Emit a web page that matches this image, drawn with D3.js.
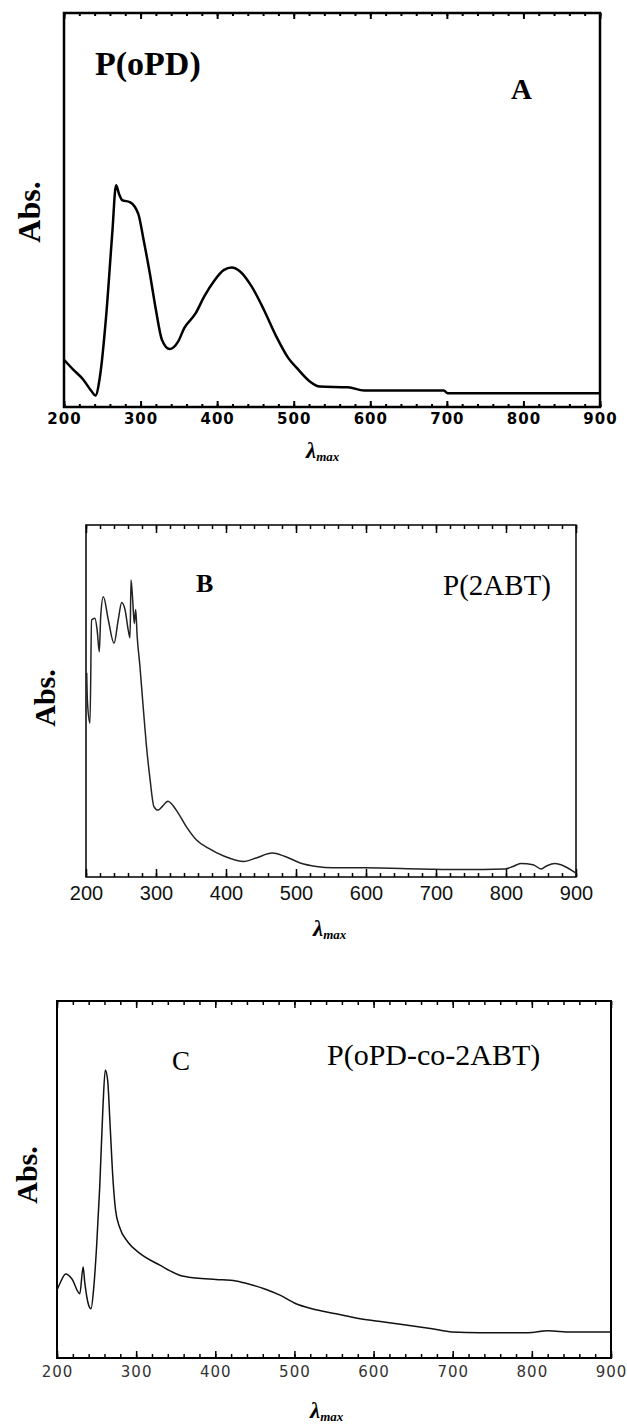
<!DOCTYPE html>
<html>
<head>
<meta charset="utf-8">
<script src="https://cdn.jsdelivr.net/npm/d3@7"></script>
<style>
  body { margin: 0; background: #fff; }
  svg { display: block; }
</style>
</head>
<body>
<div id="chart-area"></div>
<script>
// wavelength (nm) and relative absorbance
var wlA = [200, 212, 225, 236, 241, 247, 255, 263, 268, 272, 276, 286, 297, 304, 312, 320, 328, 338, 349, 357, 372, 383, 396, 409, 419, 430, 445, 461, 477, 493, 506, 521, 534, 571, 592, 696, 701, 900];
var absA = [0.120, 0.095, 0.070, 0.040, 0.029, 0.078, 0.230, 0.440, 0.563, 0.540, 0.525, 0.520, 0.490, 0.424, 0.340, 0.247, 0.170, 0.147, 0.166, 0.200, 0.238, 0.280, 0.320, 0.348, 0.354, 0.344, 0.306, 0.247, 0.180, 0.124, 0.095, 0.065, 0.052, 0.050, 0.042, 0.042, 0.035, 0.035];

var wlB = [201, 202, 205.7, 208, 212.8, 216, 219, 221, 224.8, 231.9, 240, 246, 251, 255.7, 260.5, 262.9, 264.3, 266.7, 269, 271, 273, 277, 281, 286, 291.6, 297, 303, 308.8, 317, 328.9, 343, 357.5, 374.7, 397.6, 426, 443, 466, 483.5, 506, 529, 552, 598, 678, 735.5, 798.5, 810, 821, 838.6, 850, 858.6, 870, 884, 900];
var absB = [0.580, 0.500, 0.437, 0.730, 0.735, 0.700, 0.640, 0.740, 0.796, 0.730, 0.664, 0.730, 0.780, 0.760, 0.700, 0.680, 0.844, 0.787, 0.720, 0.760, 0.687, 0.600, 0.500, 0.380, 0.276, 0.200, 0.190, 0.200, 0.215, 0.190, 0.144, 0.106, 0.082, 0.059, 0.044, 0.054, 0.068, 0.059, 0.040, 0.030, 0.026, 0.026, 0.023, 0.021, 0.023, 0.030, 0.038, 0.035, 0.023, 0.032, 0.038, 0.030, 0.011];

var wlC = [200, 203.5, 211, 218.7, 228.8, 233, 235, 240, 243, 246.5, 250, 254, 258, 261, 264, 266.8, 270, 274, 279, 289.5, 304.7, 330, 355, 375.5, 400.8, 426, 441, 461.7, 481.7, 502, 522, 552.6, 583, 613, 643, 674, 699, 734.7, 795, 820, 850, 900];
var absC = [0.190, 0.208, 0.235, 0.222, 0.180, 0.255, 0.213, 0.148, 0.138, 0.199, 0.311, 0.480, 0.700, 0.807, 0.778, 0.666, 0.526, 0.414, 0.367, 0.325, 0.293, 0.260, 0.232, 0.224, 0.220, 0.216, 0.208, 0.194, 0.176, 0.152, 0.138, 0.124, 0.110, 0.101, 0.092, 0.082, 0.073, 0.071, 0.071, 0.076, 0.073, 0.073];

var xTicks = [200, 300, 400, 500, 600, 700, 800, 900];
var panelNames = ["P(oPD)", "P(2ABT)", "P(oPD-co-2ABT)"];
var panelLetters = ["A", "B", "C"];

var svg = d3.select("#chart-area")
  .append("svg")
  .attr("width", 627)
  .attr("height", 1424);

// one panel = frame + ticks + curve + labels
function drawPanel(p, wl, ab) {
  var x = d3.scaleLinear().domain([200, 900]).range([p.left, p.right]);
  var y = d3.scaleLinear().domain([0, 1]).range([p.bottom, p.top]);
  var g = svg.append("g");

  var minor = d3.range(200, 901, 20);

  // bottom ticks, pointing inward
  g.append("g")
    .attr("transform", "translate(0," + p.bottom + ")")
    .call(d3.axisBottom(x).tickValues(minor).tickSize(-p.minorLen).tickFormat(""))
    .call(function(s) { s.select(".domain").remove(); });
  g.append("g")
    .attr("class", "xlab")
    .attr("transform", "translate(0," + p.bottom + ")")
    .call(d3.axisBottom(x).tickValues(xTicks).tickSizeInner(-p.majorLen).tickSizeOuter(0).tickPadding(p.pad))
    .call(function(s) { s.select(".domain").remove(); });
  // top ticks
  g.append("g")
    .attr("transform", "translate(0," + p.top + ")")
    .call(d3.axisTop(x).tickValues(minor).tickSize(-p.minorLen).tickFormat(""))
    .call(function(s) { s.select(".domain").remove(); });
  g.append("g")
    .attr("transform", "translate(0," + p.top + ")")
    .call(d3.axisTop(x).tickValues(xTicks).tickSize(-p.majorLen).tickFormat(""))
    .call(function(s) { s.select(".domain").remove(); });

  g.selectAll(".tick line").attr("stroke", "#000").attr("stroke-width", p.tickW);
  g.selectAll(".xlab text")
    .attr("fill", p.tickColor)
    .style("font-family", p.tickFont)
    .style("font-size", p.tickSize + "px")
    .style("font-weight", p.tickWeight)
    .style("letter-spacing", p.tickSpacing + "px");

  // frame
  g.append("rect")
    .attr("x", p.left).attr("y", p.top)
    .attr("width", p.right - p.left).attr("height", p.bottom - p.top)
    .attr("fill", "none").attr("stroke", "#000").attr("stroke-width", p.frameW);

  // spectrum
  g.append("path")
    .datum(d3.zip(wl, ab))
    .attr("fill", "none")
    .attr("stroke", p.lineColor)
    .attr("stroke-width", p.lineW)
    .attr("stroke-linejoin", "round")
    .attr("d", d3.line()
      .curve(d3.curveMonotoneX)
      .x(function(d) { return x(d[0]); })
      .y(function(d) { return y(d[1]); }));

  // y title
  g.append("text")
    .attr("transform", "translate(" + p.absX + "," + p.absY + ") rotate(-90)")
    .attr("text-anchor", "middle")
    .style("font-family", "Liberation Serif")
    .style("font-weight", "bold")
    .style("font-size", p.absSize + "px")
    .text("Abs.");

  // x title
  var xt = g.append("text")
    .attr("x", p.lamX).attr("y", p.lamY)
    .style("font-family", "Liberation Serif")
    .style("font-weight", "bold")
    .style("font-style", "italic");
  xt.append("tspan").style("font-size", "23px").text("λ");
  xt.append("tspan").style("font-size", "13px").attr("dy", 3).text("max");

  // name and letter
  g.append("text")
    .attr("x", p.nameX).attr("y", p.nameY)
    .style("font-family", "Liberation Serif")
    .style("font-weight", p.nameWeight)
    .style("font-size", p.nameSize + "px")
    .text(p.name);
  g.append("text")
    .attr("x", p.letX).attr("y", p.letY)
    .style("font-family", "Liberation Serif")
    .style("font-weight", p.letWeight)
    .style("font-size", p.letSize + "px")
    .text(p.letter);
}

drawPanel({
  left: 64, right: 600, top: 13, bottom: 407,
  majorLen: 6, minorLen: 3, tickW: 2, frameW: 2.5, lineW: 2.5, lineColor: "#000",
  pad: 6, tickFont: "DejaVu Sans", tickSize: 15, tickWeight: "bold", tickSpacing: 1, tickColor: "#000",
  absX: 40, absY: 212, absSize: 32,
  lamX: 306, lamY: 458,
  name: panelNames[0], nameX: 95, nameY: 75, nameSize: 34, nameWeight: "bold",
  letter: panelLetters[0], letX: 511, letY: 99, letSize: 29, letWeight: "bold"
}, wlA, absA);

drawPanel({
  left: 86, right: 576, top: 525, bottom: 877,
  majorLen: 8, minorLen: 4, tickW: 1.5, frameW: 1.5, lineW: 1.5, lineColor: "#222",
  pad: 9, tickFont: "Liberation Sans", tickSize: 20, tickWeight: "normal", tickSpacing: 0, tickColor: "#111",
  absX: 55, absY: 698, absSize: 30,
  lamX: 313, lamY: 936,
  name: panelNames[1], nameX: 443, nameY: 595, nameSize: 29, nameWeight: "normal",
  letter: panelLetters[1], letX: 196, letY: 592, letSize: 26, letWeight: "bold"
}, wlB, absB);

drawPanel({
  left: 57, right: 611, top: 1001, bottom: 1358,
  majorLen: 7, minorLen: 4, tickW: 1.5, frameW: 2, lineW: 1.5, lineColor: "#111",
  pad: 8, tickFont: "DejaVu Sans", tickSize: 15, tickWeight: "normal", tickSpacing: 1, tickColor: "#333",
  absX: 37, absY: 1175, absSize: 30,
  lamX: 310, lamY: 1418,
  name: panelNames[2], nameX: 327, nameY: 1065, nameSize: 30, nameWeight: "normal",
  letter: panelLetters[2], letX: 172, letY: 1070, letSize: 27, letWeight: "normal"
}, wlC, absC);
</script>
</body>
</html>
